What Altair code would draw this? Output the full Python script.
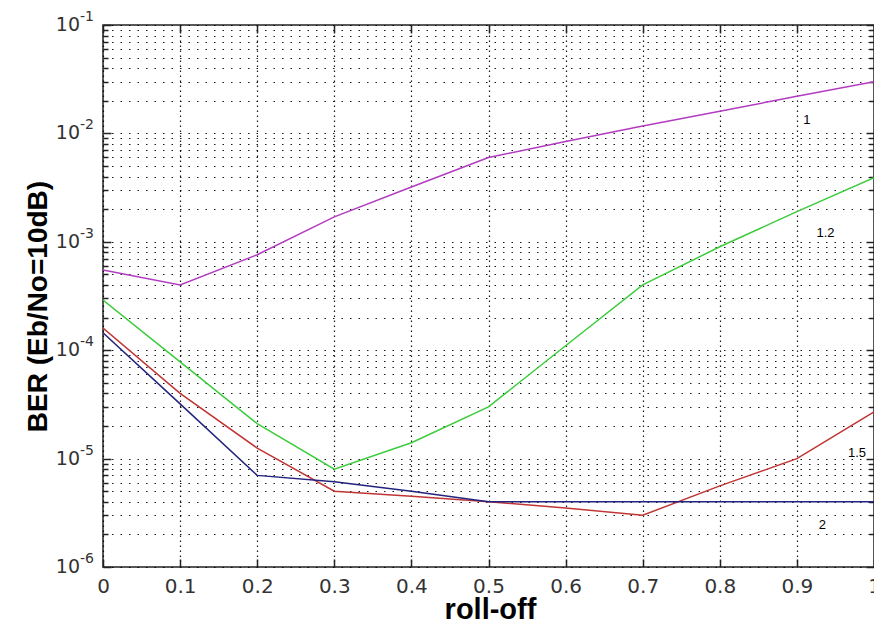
import altair as alt
import pandas as pd

# ---- data ----
roll_off = [0.0, 0.1, 0.2, 0.3, 0.4, 0.5, 0.6, 0.7, 0.8, 0.9, 1.0]
ber_1 = [5.5e-4, 4.0e-4, 7.6e-4, 1.7e-3, 3.2e-3, 6.0e-3, 8.4e-3, 1.17e-2, 1.6e-2, 2.2e-2, 3.0e-2]
ber_1_2 = [2.9e-4, 7.8e-5, 2.1e-5, 8.0e-6, 1.4e-5, 3.0e-5, 1.1e-4, 4.0e-4, 9.0e-4, 1.9e-3, 3.9e-3]
ber_1_5 = [1.6e-4, 4.0e-5, 1.25e-5, 5.0e-6, 4.5e-6, 4.0e-6, 3.5e-6, 3.0e-6, 5.6e-6, 1.0e-5, 2.7e-5]
ber_2 = [1.45e-4, 3.2e-5, 7.0e-6, 6.1e-6, 5.0e-6, 4.0e-6, 4.0e-6, 4.0e-6, 4.0e-6, 4.0e-6, 4.0e-6]

series_names = ["1", "1.2", "1.5", "2"]
series_colors = ["#b23cc0", "#3ccc3c", "#c03434", "#23237f"]

label_text = ["1", "1.2", "1.5", "2"]
label_x = [0.913, 0.937, 0.978, 0.933]
label_y = [1.33e-2, 1.2e-3, 1.13e-5, 2.45e-6]

x_ticks = [0.0, 0.1, 0.2, 0.3, 0.4, 0.5, 0.6, 0.7, 0.8, 0.9, 1.0]
y_major = [1e-6, 1e-5, 1e-4, 1e-3, 1e-2, 1e-1]
y_base = ["10", "10", "10", "10", "10", "10"]
y_exp = ["-6", "-5", "-4", "-3", "-2", "-1"]
y_minor = [
    2e-6, 3e-6, 4e-6, 5e-6, 6e-6, 7e-6, 8e-6, 9e-6,
    2e-5, 3e-5, 4e-5, 5e-5, 6e-5, 7e-5, 8e-5, 9e-5,
    2e-4, 3e-4, 4e-4, 5e-4, 6e-4, 7e-4, 8e-4, 9e-4,
    2e-3, 3e-3, 4e-3, 5e-3, 6e-3, 7e-3, 8e-3, 9e-3,
    2e-2, 3e-2, 4e-2, 5e-2, 6e-2, 7e-2, 8e-2, 9e-2,
]

rows = []
for name, vals in zip(series_names, [ber_1, ber_1_2, ber_1_5, ber_2]):
    for xv, yv in zip(roll_off, vals):
        rows.append({"series": name, "roll_off": xv, "ber": yv})
df = pd.DataFrame(rows)
lab_df = pd.DataFrame({"x": label_x, "y": label_y, "t": label_text})
ytick_df = pd.DataFrame({"v": y_major, "base": y_base, "exp": y_exp})

xscale = alt.Scale(domain=[0, 1], nice=False, zero=False)
yscale = alt.Scale(type="log", domain=[1e-6, 1e-1], nice=False)
TICK = "#222222"

lines = alt.Chart(df).mark_line(strokeWidth=1.5, clip=True).encode(
    x=alt.X("roll_off:Q", scale=xscale, axis=alt.Axis(
        orient="bottom", values=x_ticks, format="~g", grid=True,
        gridDash=[1.5, 3.5], gridColor="#000000", gridWidth=1.2, gridOpacity=0.9,
        ticks=False, tickSize=0, domain=False,
        labelFont="DejaVu Sans", labelFontSize=20, labelColor="#333333",
        labelBaseline="alphabetic", labelPadding=25, labelFlush=False,
        title="roll-off", titleFont="Liberation Sans", titleFontSize=29,
        titleFontWeight="bold", titleColor="#000000",
        titleX=387, titleY=51, titleBaseline="alphabetic", titleAlign="center")),
    y=alt.Y("ber:Q", scale=yscale, axis=alt.Axis(
        orient="left", values=y_major + y_minor, grid=True,
        gridDash=[1.5, 7], gridColor="#000000", gridWidth=1.2, gridOpacity=0.9,
        labels=False, ticks=False, domain=False,
        title="BER (Eb/No=10dB)", titleFont="Liberation Sans", titleFontSize=28,
        titleFontWeight="bold", titleColor="#000000",
        titleX=-57, titleY=281, titleBaseline="alphabetic", titleAlign="center")),
    color=alt.Color("series:N", scale=alt.Scale(domain=series_names, range=series_colors), legend=None),
)


def x_ticks_layer(orient, size):
    return alt.Chart(df).mark_point(opacity=0).encode(
        x=alt.X("roll_off:Q", scale=xscale, axis=alt.Axis(
            orient=orient, values=x_ticks, offset=-size, tickSize=size,
            tickColor=TICK, tickWidth=1.5, labels=False, grid=False,
            domain=False, title=None)),
        y=alt.Y("ber:Q", scale=yscale, axis=None),
    )


def y_ticks_layer(orient, values, size):
    return alt.Chart(df).mark_point(opacity=0).encode(
        x=alt.X("roll_off:Q", scale=xscale, axis=None),
        y=alt.Y("ber:Q", scale=yscale, axis=alt.Axis(
            orient=orient, values=values, offset=-size, tickSize=size,
            tickColor=TICK, tickWidth=1.5, labels=False, grid=False,
            domain=False, title=None)),
    )


ytxt_base = alt.Chart(ytick_df).mark_text(
    align="right", baseline="middle", font="DejaVu Sans", fontSize=19, color="#333333"
).encode(
    y=alt.Y("v:Q", scale=yscale, axis=None),
    x=alt.value(-23),
    text="base:N",
)
ytxt_exp = alt.Chart(ytick_df).mark_text(
    align="left", baseline="middle", font="DejaVu Sans", fontSize=14, color="#333333", dy=-8
).encode(
    y=alt.Y("v:Q", scale=yscale, axis=None),
    x=alt.value(-23),
    text="exp:N",
)

labels = alt.Chart(lab_df).mark_text(
    font="Liberation Sans", fontSize=13, color="#000000"
).encode(
    x=alt.X("x:Q", scale=xscale, axis=None),
    y=alt.Y("y:Q", scale=yscale, axis=None),
    text="t:N",
)

chart = alt.layer(
    lines,
    x_ticks_layer("bottom", 8),
    x_ticks_layer("top", 8),
    y_ticks_layer("left", y_major, 8),
    y_ticks_layer("left", y_minor, 5),
    y_ticks_layer("right", y_major, 8),
    y_ticks_layer("right", y_minor, 5),
    ytxt_base,
    ytxt_exp,
    labels,
).resolve_axis(x="independent", y="independent").properties(
    width=771,
    height=542,
    padding={"left": 95, "top": 17, "right": 0, "bottom": 52},
    autosize=alt.AutoSizeParams(type="none"),
    background="#ffffff",
).configure_view(stroke="#222222", strokeWidth=1.5)

chart.save("out.html", embed_options={"renderer": "svg", "actions": False})
